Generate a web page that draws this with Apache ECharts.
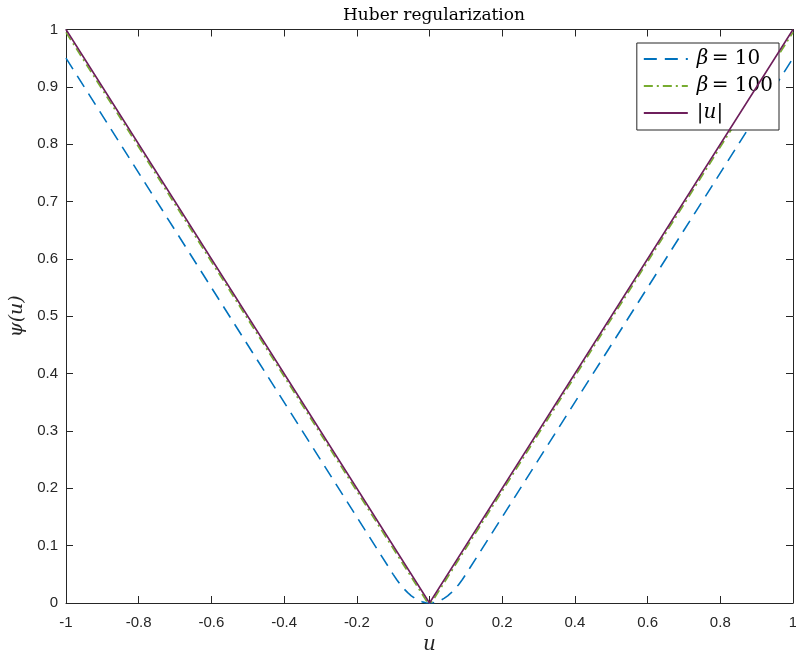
<!DOCTYPE html>
<html>
<head>
<meta charset="utf-8">
<script src="https://cdn.jsdelivr.net/npm/echarts@6/dist/echarts.min.js"></script>
<style>
  html, body { margin: 0; padding: 0; background: #fff; }
  #chart { width: 796px; height: 655px; }
</style>
</head>
<body>
<div id="chart"></div>
<script>
// Huber penalty for beta = 10: quadratic near zero, linear beyond |u| = 0.1
const uBeta10 = [-1, -0.1, -0.09, -0.08, -0.07, -0.06, -0.05, -0.04, -0.03, -0.02, -0.01, 0,
                 0.01, 0.02, 0.03, 0.04, 0.05, 0.06, 0.07, 0.08, 0.09, 0.1, 1];
const psiBeta10 = [0.95, 0.05, 0.0405, 0.032, 0.0245, 0.018, 0.0125, 0.008, 0.0045, 0.002, 0.0005, 0,
                   0.0005, 0.002, 0.0045, 0.008, 0.0125, 0.018, 0.0245, 0.032, 0.0405, 0.05, 0.95];

// Huber penalty for beta = 100: quadratic only for |u| < 0.01
const uBeta100 = [-1, -0.01, -0.005, 0, 0.005, 0.01, 1];
const psiBeta100 = [0.995, 0.005, 0.00125, 0, 0.00125, 0.005, 0.995];

// Absolute value
const uAbs = [-1, 0, 1];
const psiAbs = [1, 0, 1];

const xTicks = [-1, -0.8, -0.6, -0.4, -0.2, 0, 0.2, 0.4, 0.6, 0.8, 1];
const yTicks = [0, 0.1, 0.2, 0.3, 0.4, 0.5, 0.6, 0.7, 0.8, 0.9, 1];

const seriesNames = ['beta10', 'beta100', 'abs'];

const pair = (xs, ys) => xs.map((x, i) => [x, ys[i]]);

const axisColor = '#262626';
const tickFont = { fontFamily: 'Liberation Sans', fontSize: 15, color: axisColor };
const serif = 'DejaVu Serif';

const grid = { left: 66, right: 3, top: 29.5, bottom: 52, containLabel: false, outerBoundsMode: 'none' };

function tickLabel(v) {
  if (v === 0) return '0';
  return String(Math.round(v * 10) / 10);
}

const baseAxis = (show, margin) => ({
  type: 'value',
  min: -1, max: 1, interval: 0.2,
  axisLine: { show: true, onZero: false, lineStyle: { color: axisColor, width: 1 } },
  axisTick: { show: true, inside: true, length: 7, lineStyle: { color: axisColor } },
  axisLabel: show ? Object.assign({ formatter: tickLabel, margin: margin }, tickFont) : { show: false },
  splitLine: { show: false }
});

const chart = echarts.init(document.getElementById('chart'), null, { renderer: 'canvas' });

const legendRich = {
  g: { fontFamily: serif, fontStyle: 'italic', fontSize: 20, color: '#000' },
  t: { fontFamily: serif, fontSize: 20, color: '#000' }
};

chart.setOption({
  animation: false,
  backgroundColor: '#fff',
  title: {
    text: 'Huber regularization',
    left: 429, top: 2, textAlign: 'center',
    textStyle: { fontFamily: serif, fontWeight: 'normal', fontSize: 17, color: '#000' }
  },
  grid: grid,
  xAxis: [
    Object.assign(baseAxis(true, 12), {
      name: 'u', nameLocation: 'middle', nameGap: 30,
      nameTextStyle: { fontFamily: serif, fontStyle: 'italic', fontSize: 20, color: axisColor }
    }),
    Object.assign(baseAxis(false, 0), { position: 'top' })
  ],
  yAxis: [
    Object.assign(baseAxis(true, 8), {
      min: 0, max: 1, interval: 0.1,
      name: 'ψ(u)', nameLocation: 'middle', nameGap: 36, nameRotate: 90,
      nameTextStyle: { fontFamily: serif, fontStyle: 'italic', fontSize: 19, color: axisColor }
    }),
    Object.assign(baseAxis(false, 0), { min: 0, max: 1, interval: 0.1, position: 'right' })
  ],
  legend: {
    orient: 'vertical',
    right: 17, top: 43,
    itemWidth: 44, itemHeight: 14, itemGap: 7,
    padding: [6, 6, 7, 6],
    borderColor: '#262626', borderWidth: 1, borderRadius: 0,
    backgroundColor: '#fff',
    itemStyle: { opacity: 0 },
    data: seriesNames,
    formatter: function (name) {
      if (name === 'beta10') return '{g|β} {t|= 10}';
      if (name === 'beta100') return '{g|β} {t|= 100}';
      return '{t||}{g|u}{t||}';
    },
    textStyle: { rich: legendRich, padding: [0, 0, 0, 4] }
  },
  series: [
    {
      name: 'beta10', type: 'line', data: pair(uBeta10, psiBeta10),
      showSymbol: false, symbol: 'none',
      lineStyle: { color: '#0072BD', width: 1.6, type: [13, 8] },
      itemStyle: { color: '#0072BD' }, z: 2
    },
    {
      name: 'beta100', type: 'line', data: pair(uBeta100, psiBeta100),
      showSymbol: false, symbol: 'none',
      lineStyle: { color: '#77AC30', width: 1.6, type: [9, 4, 2, 4] },
      itemStyle: { color: '#77AC30' }, z: 3
    },
    {
      name: 'abs', type: 'line', data: pair(uAbs, psiAbs),
      showSymbol: false, symbol: 'none',
      lineStyle: { color: '#6E1F5C', width: 1.6, type: 'solid' },
      itemStyle: { color: '#6E1F5C' }, z: 4
    }
  ]
});
</script>
</body>
</html>
